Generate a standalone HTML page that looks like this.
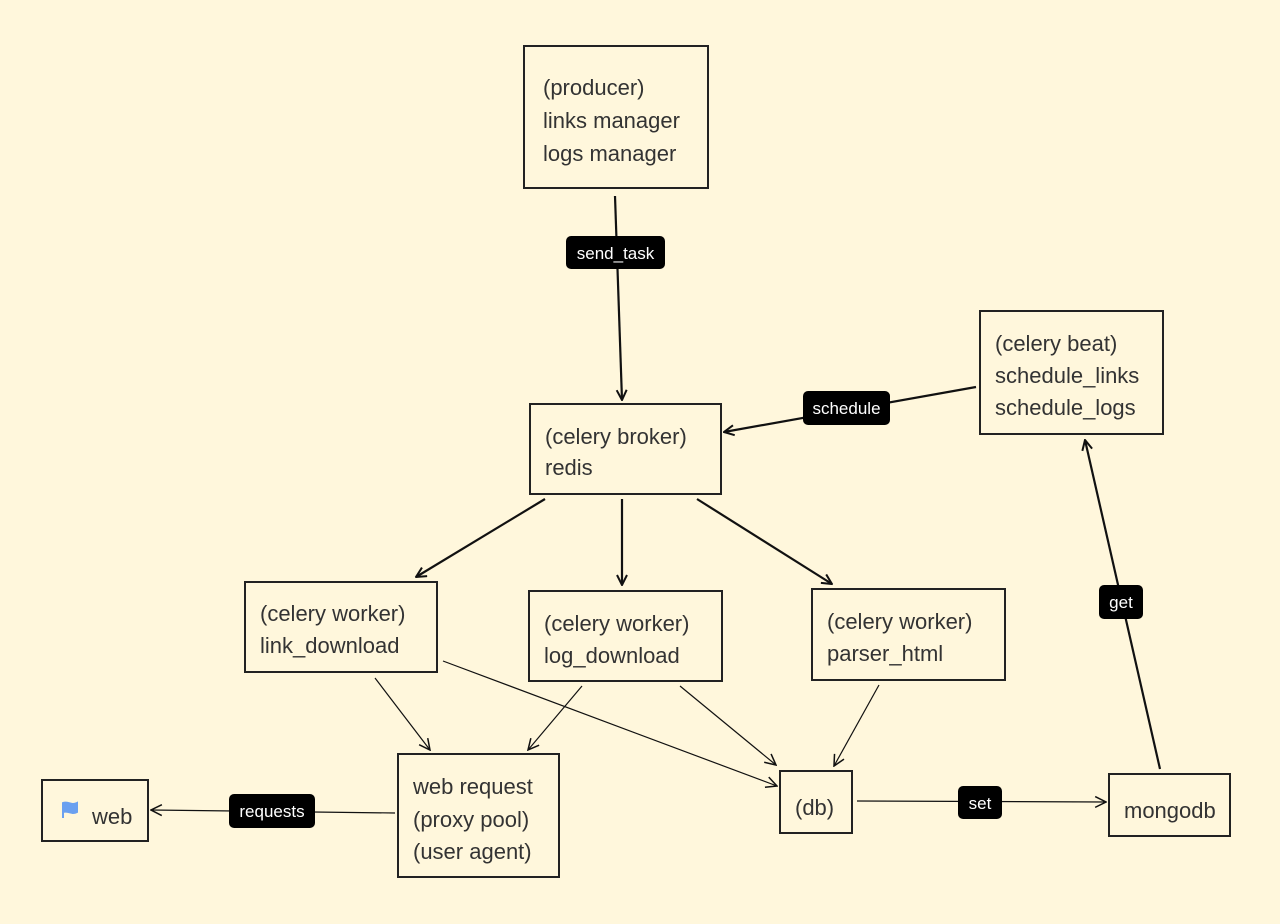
<!DOCTYPE html>
<html><head><meta charset="utf-8"><style>
html,body{margin:0;padding:0;background:#fff7dc;}
svg{display:block}
.t{font-family:"Liberation Sans",sans-serif;font-size:22px;fill:#333}
.l{font-family:"Liberation Sans",sans-serif;font-size:17px;fill:#fff;text-anchor:middle}
.b{fill:none;stroke:#222;stroke-width:2}
.e2{stroke:#111;stroke-width:2.2;fill:none}
.e1{stroke:#111;stroke-width:1.2;fill:none}
</style></head><body>
<svg width="1280" height="924" viewBox="0 0 1280 924" xmlns="http://www.w3.org/2000/svg">
<defs>
<marker id="a" viewBox="0 0 12 12" refX="11" refY="6" markerWidth="12" markerHeight="12" markerUnits="userSpaceOnUse" orient="auto"><path d="M1,1 L11,6 L1,11" fill="none" stroke="#111" stroke-width="2"/></marker>
<marker id="a1" viewBox="0 0 12 12" refX="11" refY="6" markerWidth="13" markerHeight="13" markerUnits="userSpaceOnUse" orient="auto"><path d="M1,1 L11,6 L1,11" fill="none" stroke="#111" stroke-width="1.4"/></marker>
</defs>
<rect width="1280" height="924" fill="#fff7dc"/>
<rect class="b" x="524" y="46" width="184" height="142"/>
<rect class="b" x="530" y="404" width="191" height="90"/>
<rect class="b" x="980" y="311" width="183" height="123"/>
<rect class="b" x="245" y="582" width="192" height="90"/>
<rect class="b" x="529" y="591" width="193" height="90"/>
<rect class="b" x="812" y="589" width="193" height="91"/>
<rect class="b" x="398" y="754" width="161" height="123"/>
<rect class="b" x="42" y="780" width="106" height="61"/>
<rect class="b" x="780" y="771" width="72" height="62"/>
<rect class="b" x="1109" y="774" width="121" height="62"/>
<text class="t" x="543" y="95">(producer)</text>
<text class="t" x="543" y="128">links manager</text>
<text class="t" x="543" y="161">logs manager</text>
<text class="t" x="545" y="444">(celery broker)</text>
<text class="t" x="545" y="475">redis</text>
<text class="t" x="995" y="351">(celery beat)</text>
<text class="t" x="995" y="383">schedule_links</text>
<text class="t" x="995" y="415">schedule_logs</text>
<text class="t" x="260" y="621">(celery worker)</text>
<text class="t" x="260" y="653">link_download</text>
<text class="t" x="544" y="631">(celery worker)</text>
<text class="t" x="544" y="663">log_download</text>
<text class="t" x="827" y="629">(celery worker)</text>
<text class="t" x="827" y="661">parser_html</text>
<text class="t" x="413" y="794">web request</text>
<text class="t" x="413" y="827">(proxy pool)</text>
<text class="t" x="413" y="859">(user agent)</text>
<text class="t" x="92" y="824">web</text>
<path d="M63,803 L63,818 M63,803 C68,801 71,806 77,803 L77,812 C71,815 68,810 63,812 Z" fill="#6aa0f0" stroke="#6aa0f0" stroke-width="2"/>
<text class="t" x="795" y="815">(db)</text>
<text class="t" x="1124" y="818">mongodb</text>
<line class="e2" x1="615" y1="196" x2="622" y2="400" marker-end="url(#a)"/>
<line class="e2" x1="976" y1="387" x2="724" y2="432" marker-end="url(#a)"/>
<line class="e2" x1="1160" y1="769" x2="1085" y2="440" marker-end="url(#a)"/>
<line class="e2" x1="545" y1="499" x2="416" y2="577" marker-end="url(#a)"/>
<line class="e2" x1="622" y1="499" x2="622" y2="585" marker-end="url(#a)"/>
<line class="e2" x1="697" y1="499" x2="832" y2="584" marker-end="url(#a)"/>
<line class="e1" x1="375" y1="678" x2="430" y2="750" marker-end="url(#a1)"/>
<line class="e1" x1="443" y1="661" x2="777" y2="786" marker-end="url(#a1)"/>
<line class="e1" x1="582" y1="686" x2="528" y2="750" marker-end="url(#a1)"/>
<line class="e1" x1="680" y1="686" x2="776" y2="765" marker-end="url(#a1)"/>
<line class="e1" x1="879" y1="685" x2="834" y2="766" marker-end="url(#a1)"/>
<line class="e1" x1="395" y1="813" x2="151" y2="810" marker-end="url(#a1)"/>
<line class="e1" x1="857" y1="801" x2="1106" y2="802" marker-end="url(#a1)"/>
<rect x="566" y="236" width="99" height="33" rx="5" fill="#000"/><text class="l" x="615.5" y="259">send_task</text>
<rect x="803" y="391" width="87" height="34" rx="5" fill="#000"/><text class="l" x="846.5" y="414">schedule</text>
<rect x="1099" y="585" width="44" height="34" rx="5" fill="#000"/><text class="l" x="1121" y="608">get</text>
<rect x="229" y="794" width="86" height="34" rx="5" fill="#000"/><text class="l" x="272" y="817">requests</text>
<rect x="958" y="786" width="44" height="33" rx="5" fill="#000"/><text class="l" x="980" y="809">set</text>
</svg>
</body></html>
